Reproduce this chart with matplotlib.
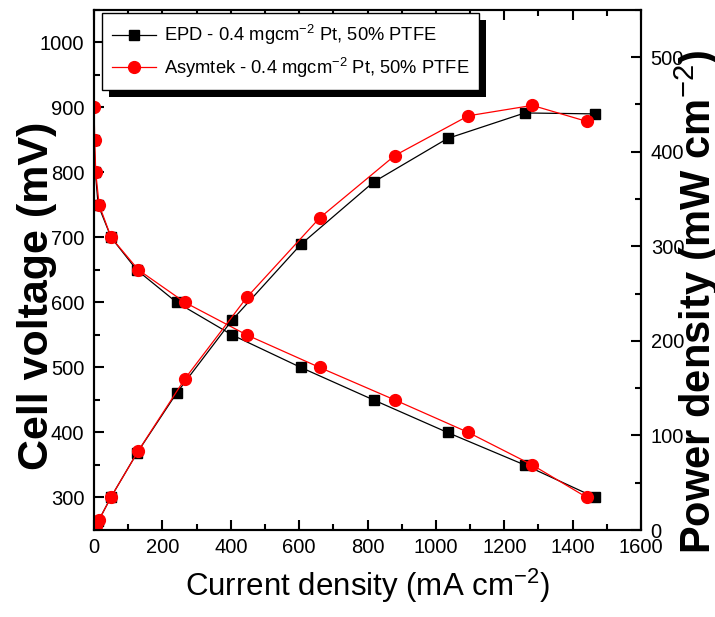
import matplotlib
matplotlib.use("Agg")
import matplotlib.pyplot as plt
from matplotlib.patches import Rectangle
from matplotlib.transforms import IdentityTransform
from matplotlib.ticker import MultipleLocator

# fuel cell polarisation + power curves
epd_current = [0, 4, 12, 50, 125, 242, 404, 605, 818, 1034, 1260, 1466]
epd_voltage = [850, 800, 750, 700, 650, 600, 550, 500, 450, 400, 350, 300]
epd_power = [0, 3, 9, 35, 81, 145, 222, 302, 368, 414, 441, 440]

asy_current = [0, 2, 5, 15, 50, 130, 266, 447, 660, 880, 1095, 1282, 1442]
asy_voltage = [900, 850, 800, 750, 700, 650, 600, 550, 500, 450, 400, 350, 300]
asy_power = [0, 2, 4, 11, 35, 84, 160, 246, 330, 396, 438, 449, 432]

labels = ["EPD - 0.4 mgcm$^{-2}$ Pt, 50% PTFE",
          "Asymtek - 0.4 mgcm$^{-2}$ Pt, 50% PTFE"]

plt.rcParams['font.family'] = ["Liberation Sans", "DejaVu Sans"]
plt.rcParams['mathtext.fontset'] = 'custom'
plt.rcParams['mathtext.rm'] = 'Liberation Sans'
plt.rcParams['mathtext.bf'] = 'Liberation Sans:bold'

fig = plt.figure(figsize=(7.15, 6.17), dpi=100)
ax = fig.add_axes([0.1315, 0.141, 0.765, 0.843])
ax2 = ax.twinx()

ax.plot(epd_current, epd_voltage, color='black', lw=0.9, marker='s', ms=7)
ax.plot(asy_current, asy_voltage, color='red', lw=0.9, marker='o', ms=8.5)
l1, = ax2.plot(epd_current, epd_power, color='black', lw=0.9, marker='s', ms=7)
l2, = ax2.plot(asy_current, asy_power, color='red', lw=0.9, marker='o', ms=8.5)

ax.set_xlim(0, 1600)
ax.set_ylim(250, 1050)
ax2.set_ylim(0, 550)

ax.xaxis.set_major_locator(MultipleLocator(200))
ax.xaxis.set_minor_locator(MultipleLocator(100))
ax.yaxis.set_major_locator(MultipleLocator(100))
ax.yaxis.set_minor_locator(MultipleLocator(50))
ax2.yaxis.set_major_locator(MultipleLocator(100))
ax2.yaxis.set_minor_locator(MultipleLocator(50))
ax.set_yticks(range(300, 1001, 100))

for a in (ax, ax2):
    for s in a.spines.values():
        s.set_linewidth(1.5)
ax.tick_params(axis='both', which='major', direction='in', length=7, width=1.5,
               labelsize=14.5, top=True)
ax.tick_params(axis='both', which='minor', direction='in', length=4, width=1.5,
               top=True)
ax.tick_params(axis='y', pad=7)
ax.tick_params(axis='x', pad=6)
ax2.tick_params(axis='y', which='major', direction='in', length=7, width=1.5,
                labelsize=14.5, pad=7)
ax2.tick_params(axis='y', which='minor', direction='in', length=4, width=1.5)

ax.set_xlabel("Current density (mA cm$^{-2}$)", fontsize=22.5)
ax.set_ylabel("Cell voltage (mV)", fontsize=31, fontweight='bold')
ax2.set_ylabel("Power density (mW cm$^{-2}$)", fontsize=30, fontweight='bold',
               rotation=90)
ax.yaxis.set_label_coords(-0.068, 0.45)
ax2.yaxis.set_label_coords(1.057, 0.438)
ax.xaxis.set_label_coords(0.5, -0.07)

leg = ax2.legend([l1, l2], labels, loc='upper left',
                 bbox_to_anchor=(0.015, 0.994), fontsize=13.2, frameon=True,
                 fancybox=False, edgecolor='black', framealpha=1,
                 handlelength=2.4, handletextpad=0.4, borderpad=0.55,
                 labelspacing=0.45, borderaxespad=0)
leg.get_frame().set_linewidth(1.0)
leg.set_zorder(6)

# solid black drop shadow behind the legend box
fig.canvas.draw()
bb = leg.get_window_extent()
shadow = Rectangle((bb.x0 + 7, bb.y0 - 7), bb.width, bb.height,
                   transform=IdentityTransform(), facecolor='black',
                   edgecolor='none', zorder=5.5, clip_on=False)
ax2.add_artist(shadow)

fig.savefig("out.png", dpi=100)
